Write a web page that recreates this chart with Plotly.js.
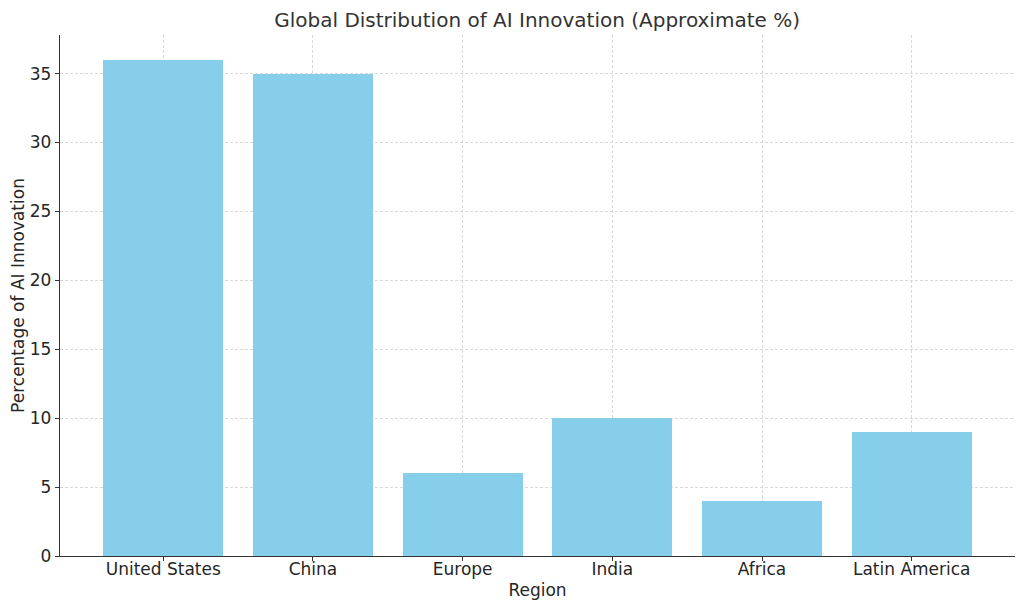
<!DOCTYPE html>
<html>
<head>
<meta charset="utf-8">
<script src="https://cdn.plot.ly/plotly-3.0.1.min.js"></script>
<style>html,body{margin:0;padding:0;background:#fff;}#chart{width:1024px;height:611px;}</style>
</head>
<body>
<div id="chart"></div>
<script>
const regions = ["United States", "China", "Europe", "India", "Africa", "Latin America"];
const percentages = [36, 35, 6, 10, 4, 9];
const yTicks = [0, 5, 10, 15, 20, 25, 30, 35];

const font = "DejaVu Sans, sans-serif";
const txt = "#262626";
const gridStyle = {showgrid: true, gridcolor: "#d0d0d0", griddash: "3px,2px", gridwidth: 0.8};

Plotly.newPlot("chart", [{
  type: "bar",
  x: regions,
  y: percentages,
  width: 0.8,
  marker: {color: "#87CEEB", line: {width: 0}},
  hoverinfo: "x+y"
}], {
  width: 1024,
  height: 611,
  margin: {l: 60, r: 9, t: 35, b: 55},
  paper_bgcolor: "#fff",
  plot_bgcolor: "#fff",
  bargap: 0,
  font: {family: font, color: txt, size: 17},
  title: {text: "Global Distribution of AI Innovation (Approximate %)", font: {family: font, size: 20, color: "#333"}, x: 0.5245, xanchor: "center", y: 0.968, yanchor: "middle"},
  xaxis: Object.assign({
    title: {text: "Region", font: {family: font, size: 17, color: txt}, standoff: 6},
    range: [-0.69, 5.69],
    tickmode: "array",
    tickvals: regions,
    ticks: "outside", ticklen: 4, tickwidth: 1, tickcolor: "#333",
    ticklabelstandoff: -7,
    showline: true, linecolor: "#333", linewidth: 1.2,
    zeroline: false,
    tickfont: {family: font, size: 17, color: txt},
    layer: "above traces"
  }, gridStyle),
  yaxis: Object.assign({
    title: {text: "Percentage of AI Innovation", font: {family: font, size: 17, color: txt}, standoff: 0},
    range: [0, 37.8],
    tickmode: "array",
    tickvals: yTicks,
    ticks: "outside", ticklen: 4, tickwidth: 1, tickcolor: "#333",
    showline: true, linecolor: "#333", linewidth: 1.2,
    zeroline: false,
    tickfont: {family: font, size: 17, color: txt},
    layer: "above traces"
  }, gridStyle),
  showlegend: false
}, {displayModeBar: false, staticPlot: true});
</script>
</body>
</html>
